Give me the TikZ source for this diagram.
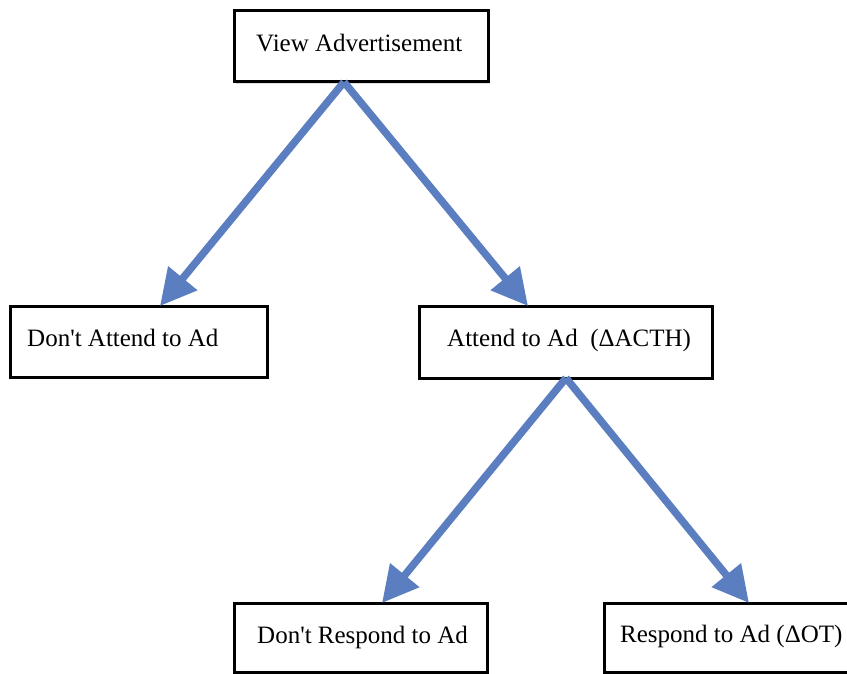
\documentclass[tikz,border=0pt]{standalone}
\usepackage{fontspec}
\setmainfont{Liberation Serif}[Ligatures=TeXOff]
\usetikzlibrary{arrows.meta,shadows}
\definecolor{arrowblue}{RGB}{90,126,192}
\begin{document}
\begin{tikzpicture}[x=1pt,y=-1pt,
  box/.style={draw=black,fill=white,line width=3pt,rectangle,inner sep=0pt,outer sep=0pt,anchor=north west,
    drop shadow={shadow xshift=1.5pt,shadow yshift=-2pt,opacity=0.25}},
  lbl/.style={anchor=base west,inner sep=0pt,font=\fontsize{25}{30}\selectfont},
  conn/.style={draw=arrowblue,line width=7.5pt,-{Triangle[length=36pt,width=36pt]}}]
\clip (0,0) rectangle (847,674);
\fill[white] (0,0) rectangle (847,674);
% boxes
\node[box,minimum width=254pt,minimum height=71pt] (top) at (234,11) {};
\node[box,minimum width=257pt,minimum height=71pt] (datt) at (10,306) {};
\node[box,minimum width=293pt,minimum height=72pt] (att) at (419,306) {};
\node[box,minimum width=253pt,minimum height=69pt] (dres) at (234,603) {};
\node[box,minimum width=266pt,minimum height=69pt] (res) at (604,603) {};
% labels
\node[lbl] (ttop) at (256,52) {View Advertisement};
\node[lbl] (tdatt) at (27,346) {Don't Attend to Ad};
\node[lbl] (tatt) at (447,346) {Attend to Ad~~(ΔACTH)};
\node[lbl] (tdres) at (257,643) {Don't Respond to Ad};
\node[lbl] (tres) at (620,642) {Respond to Ad (ΔOT)};
% connectors
\draw[conn] ([xshift=110pt]top.south west) -- ([xshift=150pt]datt.north west);
\draw[conn] ([xshift=110pt]top.south west) -- ([xshift=109pt]att.north west);
\draw[conn] ([xshift=147pt]att.south west) -- ([xshift=148pt]dres.north west);
\draw[conn] ([xshift=147pt]att.south west) -- ([xshift=145pt]res.north west);
\end{tikzpicture}
\end{document}
